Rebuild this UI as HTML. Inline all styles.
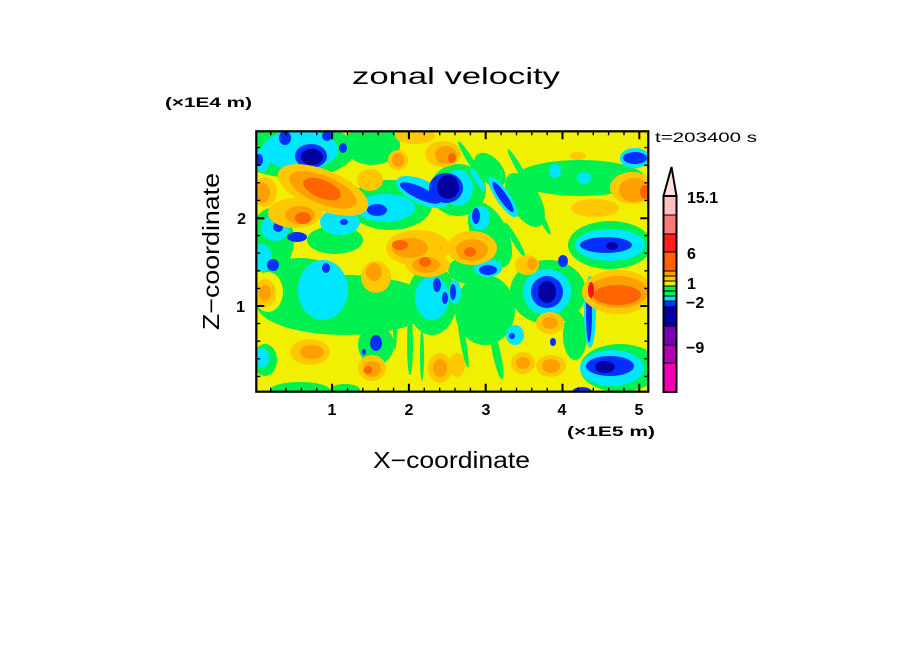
<!DOCTYPE html>
<html><head><meta charset="utf-8"><style>
html,body{margin:0;padding:0;background:#fff;}
svg{display:block;}
text{font-family:"Liberation Sans",sans-serif;fill:#000;}
.b{font-weight:bold;}
</style></head><body>
<svg width="904" height="654" viewBox="0 0 904 654" xmlns="http://www.w3.org/2000/svg">
<defs><clipPath id="c"><rect x="256" y="131" width="392" height="261"/></clipPath></defs>
<rect width="904" height="654" fill="#fff"/>
<g clip-path="url(#c)">
<rect x="256" y="131" width="392" height="261" fill="#f0f000"/>
<!-- green -->
<g fill="#00f050">
<ellipse cx="295" cy="150" rx="60" ry="28"/>
<ellipse cx="372" cy="145" rx="28" ry="20"/>
<ellipse cx="390" cy="205" rx="42" ry="25"/>
<ellipse cx="272" cy="240" rx="22" ry="32"/>
<ellipse cx="335" cy="240" rx="28" ry="14"/>
<ellipse cx="345" cy="305" rx="88" ry="30"/>
<ellipse cx="300" cy="280" rx="40" ry="22"/>
<ellipse cx="432" cy="300" rx="25" ry="35"/>
<ellipse cx="485" cy="310" rx="30" ry="35"/>
<ellipse cx="548" cy="292" rx="38" ry="32"/>
<ellipse cx="575" cy="335" rx="12" ry="25"/>
<ellipse cx="580" cy="178" rx="65" ry="18"/>
<ellipse cx="610" cy="245" rx="42" ry="24"/>
<ellipse cx="620" cy="368" rx="40" ry="24"/>
<ellipse cx="458" cy="190" rx="28" ry="26"/>
<ellipse cx="490" cy="170" rx="20" ry="12" transform="rotate(50 490 170)"/>
<ellipse cx="376" cy="345" rx="18" ry="20"/>
<ellipse cx="490" cy="235" rx="18" ry="35" transform="rotate(-25 490 235)"/>
<ellipse cx="265" cy="360" rx="12" ry="16"/>
<ellipse cx="300" cy="390" rx="30" ry="8"/>
<ellipse cx="345" cy="390" rx="15" ry="6"/>
<ellipse cx="470" cy="270" rx="22" ry="14"/>
<ellipse cx="525" cy="200" rx="15" ry="30" transform="rotate(-30 525 200)"/>
<ellipse cx="470" cy="160" rx="22" ry="3" transform="rotate(58 470 160)"/>
<ellipse cx="520" cy="170" rx="24" ry="3" transform="rotate(60 520 170)"/>
<ellipse cx="540" cy="215" rx="22" ry="3" transform="rotate(62 540 215)"/>
<ellipse cx="515" cy="240" rx="20" ry="3" transform="rotate(60 515 240)"/>
<ellipse cx="410" cy="345" rx="3" ry="30"/>
<ellipse cx="422" cy="355" rx="2" ry="26"/>
<ellipse cx="463" cy="340" rx="3" ry="28" transform="rotate(-10 463 340)"/>
<ellipse cx="497" cy="355" rx="4" ry="25" transform="rotate(-12 497 355)"/>
<ellipse cx="395" cy="325" rx="2" ry="25"/>
</g>
<ellipse cx="268" cy="292" rx="15" ry="20" fill="#f0f000"/>
<!-- cyan -->
<g fill="#00e6ff">
<ellipse cx="300" cy="150" rx="38" ry="20"/>
<ellipse cx="262" cy="160" rx="8" ry="12"/>
<ellipse cx="340" cy="222" rx="20" ry="13"/>
<ellipse cx="385" cy="208" rx="30" ry="14"/>
<ellipse cx="422" cy="192" rx="28" ry="12" transform="rotate(25 422 192)"/>
<ellipse cx="275" cy="228" rx="14" ry="13"/>
<ellipse cx="262" cy="258" rx="10" ry="14"/>
<ellipse cx="323" cy="290" rx="25" ry="30"/>
<ellipse cx="432" cy="298" rx="17" ry="22"/>
<ellipse cx="547" cy="292" rx="24" ry="23"/>
<ellipse cx="515" cy="335" rx="9" ry="10"/>
<ellipse cx="610" cy="245" rx="35" ry="16"/>
<ellipse cx="612" cy="368" rx="32" ry="18"/>
<ellipse cx="262" cy="358" rx="7" ry="10"/>
<ellipse cx="555" cy="171" rx="6" ry="7"/>
<ellipse cx="584" cy="178" rx="7" ry="6"/>
<ellipse cx="635" cy="158" rx="15" ry="10"/>
<ellipse cx="458" cy="188" rx="15" ry="18"/>
<ellipse cx="503" cy="197" rx="24" ry="7" transform="rotate(56 503 197)"/>
<ellipse cx="480" cy="218" rx="10" ry="12"/>
<ellipse cx="488" cy="268" rx="14" ry="9"/>
<ellipse cx="590" cy="312" rx="6" ry="36"/>
<ellipse cx="455" cy="292" rx="6" ry="12"/>
<ellipse cx="478" cy="180" rx="14" ry="3" transform="rotate(58 478 180)"/>
</g>
<!-- blue -->
<g fill="#0030ff">
<ellipse cx="311" cy="156" rx="16" ry="12"/>
<ellipse cx="285" cy="138" rx="6" ry="7"/>
<ellipse cx="327" cy="136" rx="5" ry="5"/>
<ellipse cx="343" cy="148" rx="4" ry="5"/>
<ellipse cx="259" cy="160" rx="4" ry="6"/>
<ellipse cx="344" cy="222" rx="4" ry="3"/>
<ellipse cx="377" cy="210" rx="10" ry="6"/>
<ellipse cx="420" cy="193" rx="22" ry="6" transform="rotate(25 420 193)"/>
<ellipse cx="297" cy="237" rx="10" ry="5"/>
<ellipse cx="278" cy="227" rx="5" ry="5"/>
<ellipse cx="273" cy="265" rx="6" ry="6"/>
<ellipse cx="326" cy="268" rx="4" ry="5"/>
<ellipse cx="376" cy="343" rx="6" ry="8"/>
<ellipse cx="364" cy="352" rx="2" ry="3"/>
<ellipse cx="446" cy="188" rx="17" ry="15"/>
<ellipse cx="503" cy="197" rx="18" ry="4" transform="rotate(56 503 197)"/>
<ellipse cx="476" cy="216" rx="4" ry="8"/>
<ellipse cx="635" cy="158" rx="12" ry="6"/>
<ellipse cx="547" cy="292" rx="16" ry="16"/>
<ellipse cx="563" cy="261" rx="5" ry="6"/>
<ellipse cx="488" cy="270" rx="9" ry="5"/>
<ellipse cx="453" cy="292" rx="3" ry="8"/>
<ellipse cx="610" cy="366" rx="24" ry="10"/>
<ellipse cx="589" cy="312" rx="3" ry="30"/>
<ellipse cx="437" cy="285" rx="4" ry="7"/>
<ellipse cx="445" cy="298" rx="3" ry="6"/>
<ellipse cx="606" cy="245" rx="26" ry="8"/>
<ellipse cx="582" cy="392" rx="10" ry="5"/>
<ellipse cx="553" cy="342" rx="3" ry="4"/>
<ellipse cx="512" cy="336" rx="3" ry="3"/>
</g>
<!-- dark blue -->
<g fill="#0000a0">
<ellipse cx="312" cy="157" rx="11" ry="8"/>
<ellipse cx="448" cy="187" rx="11" ry="12"/>
<ellipse cx="547" cy="292" rx="9" ry="11"/>
<ellipse cx="605" cy="367" rx="10" ry="6"/>
<ellipse cx="612" cy="246" rx="6" ry="4"/>
</g>
<!-- gold -->
<g fill="#ffc800">
<ellipse cx="323" cy="190" rx="48" ry="20" transform="rotate(22 323 190)"/>
<ellipse cx="265" cy="192" rx="12" ry="15"/>
<ellipse cx="295" cy="213" rx="27" ry="15"/>
<ellipse cx="370" cy="180" rx="13" ry="11"/>
<ellipse cx="398" cy="160" rx="10" ry="10"/>
<ellipse cx="443" cy="154" rx="18" ry="13"/>
<ellipse cx="415" cy="136" rx="20" ry="8"/>
<ellipse cx="632" cy="188" rx="22" ry="16"/>
<ellipse cx="595" cy="208" rx="24" ry="9"/>
<ellipse cx="578" cy="156" rx="8" ry="4"/>
<ellipse cx="418" cy="248" rx="32" ry="18"/>
<ellipse cx="472" cy="248" rx="25" ry="17"/>
<ellipse cx="265" cy="293" rx="11" ry="14"/>
<ellipse cx="376" cy="277" rx="15" ry="16"/>
<ellipse cx="428" cy="265" rx="22" ry="12"/>
<ellipse cx="310" cy="352" rx="20" ry="13"/>
<ellipse cx="372" cy="368" rx="14" ry="13"/>
<ellipse cx="440" cy="368" rx="12" ry="15"/>
<ellipse cx="550" cy="323" rx="14" ry="11"/>
<ellipse cx="523" cy="363" rx="12" ry="11"/>
<ellipse cx="551" cy="366" rx="15" ry="11"/>
<ellipse cx="457" cy="365" rx="8" ry="12"/>
<ellipse cx="527" cy="265" rx="12" ry="10"/>
<ellipse cx="618" cy="292" rx="36" ry="22"/>
</g>
<!-- orange -->
<g fill="#ffa000">
<ellipse cx="323" cy="190" rx="36" ry="14" transform="rotate(22 323 190)"/>
<ellipse cx="263" cy="193" rx="7" ry="10"/>
<ellipse cx="300" cy="215" rx="15" ry="9"/>
<ellipse cx="398" cy="160" rx="6" ry="7"/>
<ellipse cx="446" cy="155" rx="11" ry="9"/>
<ellipse cx="634" cy="190" rx="15" ry="12"/>
<ellipse cx="410" cy="248" rx="18" ry="10"/>
<ellipse cx="472" cy="250" rx="16" ry="11"/>
<ellipse cx="265" cy="293" rx="6" ry="8"/>
<ellipse cx="374" cy="272" rx="8" ry="9"/>
<ellipse cx="426" cy="265" rx="14" ry="8"/>
<ellipse cx="312" cy="352" rx="12" ry="7"/>
<ellipse cx="372" cy="369" rx="9" ry="8"/>
<ellipse cx="440" cy="368" rx="7" ry="9"/>
<ellipse cx="550" cy="323" rx="8" ry="6"/>
<ellipse cx="523" cy="363" rx="7" ry="6"/>
<ellipse cx="551" cy="366" rx="9" ry="7"/>
<ellipse cx="532" cy="264" rx="5" ry="6"/>
<ellipse cx="618" cy="292" rx="30" ry="16"/>
</g>
<!-- dark orange -->
<g fill="#ff6400">
<ellipse cx="322" cy="189" rx="20" ry="9" transform="rotate(22 322 189)"/>
<ellipse cx="303" cy="218" rx="8" ry="6"/>
<ellipse cx="452" cy="158" rx="4" ry="5"/>
<ellipse cx="400" cy="245" rx="8" ry="5"/>
<ellipse cx="470" cy="252" rx="6" ry="5"/>
<ellipse cx="425" cy="262" rx="6" ry="5"/>
<ellipse cx="368" cy="370" rx="4" ry="4"/>
<ellipse cx="617" cy="295" rx="24" ry="10"/>
<ellipse cx="645" cy="192" rx="5" ry="7"/>
</g>
<ellipse cx="591" cy="290" rx="3" ry="8" fill="#ff1010"/>
</g>

<!-- frame -->
<rect x="256.3" y="131.3" width="392" height="260.4" fill="none" stroke="#000" stroke-width="2.2"/>
<!-- ticks -->
<g stroke="#000" stroke-width="1.4">
<path d="M270.7 391.7v-4M286 391.7v-4M301.4 391.7v-4M316.7 391.7v-4M347.5 391.7v-4M362.8 391.7v-4M378.2 391.7v-4M393.6 391.7v-4M424.3 391.7v-4M439.7 391.7v-4M455 391.7v-4M470.4 391.7v-4M501.1 391.7v-4M516.5 391.7v-4M531.8 391.7v-4M547.2 391.7v-4M577.9 391.7v-4M593.3 391.7v-4M608.6 391.7v-4M624 391.7v-4"/>
<path d="M270.7 131.3v4M286 131.3v4M301.4 131.3v4M316.7 131.3v4M347.5 131.3v4M362.8 131.3v4M378.2 131.3v4M393.6 131.3v4M424.3 131.3v4M439.7 131.3v4M455 131.3v4M470.4 131.3v4M501.1 131.3v4M516.5 131.3v4M531.8 131.3v4M547.2 131.3v4M577.9 131.3v4M593.3 131.3v4M608.6 131.3v4M624 131.3v4"/>
<path d="M256.3 376.4h4M256.3 358.8h4M256.3 341.2h4M256.3 323.6h4M256.3 288.4h4M256.3 270.8h4M256.3 253.2h4M256.3 235.6h4M256.3 200.4h4M256.3 182.8h4M256.3 165.2h4M256.3 147.6h4"/>
<path d="M648.3 376.4h-4M648.3 358.8h-4M648.3 341.2h-4M648.3 323.6h-4M648.3 288.4h-4M648.3 270.8h-4M648.3 253.2h-4M648.3 235.6h-4M648.3 200.4h-4M648.3 182.8h-4M648.3 165.2h-4M648.3 147.6h-4"/>
</g>
<g stroke="#000" stroke-width="2">
<path d="M332.1 391.7v-8M408.9 391.7v-8M485.7 391.7v-8M562.5 391.7v-8M639.3 391.7v-8"/>
<path d="M332.1 131.3v8M408.9 131.3v8M485.7 131.3v8M562.5 131.3v8M639.3 131.3v8"/>
<path d="M256.3 306h8M256.3 218.2h8M648.3 306h-8M648.3 218.2h-8"/>
</g>

<!-- colorbar -->
<g stroke="#000" stroke-width="1">
<rect x="663.5" y="196" width="13" height="19" fill="#ffc0c0"/>
<rect x="663.5" y="215" width="13" height="19" fill="#ff7878"/>
<rect x="663.5" y="234" width="13" height="18" fill="#ff1e1e"/>
<rect x="663.5" y="252" width="13" height="19" fill="#ff6400"/>
<rect x="663.5" y="271" width="13" height="5" fill="#ffa000"/>
<rect x="663.5" y="276" width="13" height="5" fill="#ffc800"/>
<rect x="663.5" y="281" width="13" height="5" fill="#f0f000"/>
<rect x="663.5" y="286" width="13" height="5" fill="#00f050"/>
<rect x="663.5" y="291" width="13" height="5" fill="#00f050"/>
<rect x="663.5" y="296" width="13" height="5" fill="#00e6ff"/>
<rect x="663.5" y="301" width="13" height="6" fill="#0030ff"/>
<rect x="663.5" y="307" width="13" height="19" fill="#0000a0"/>
<rect x="663.5" y="326" width="13" height="19" fill="#7800b4"/>
<rect x="663.5" y="345" width="13" height="18" fill="#b400b4"/>
<rect x="663.5" y="363" width="13" height="29" fill="#f000b4"/>
</g>
<rect x="663.5" y="196" width="13" height="196" fill="none" stroke="#000" stroke-width="2"/>
<polygon points="663.5,196 676.5,196 671.5,167" fill="#ffe0e0" stroke="#000" stroke-width="2"/>

<!-- texts -->
<text x="352" y="84" font-size="23" textLength="208" lengthAdjust="spacingAndGlyphs">zonal velocity</text>
<text x="165" y="107" font-size="14" class="b" textLength="87" lengthAdjust="spacingAndGlyphs">(×1E4 m)</text>
<text x="655" y="142" font-size="14" textLength="102" lengthAdjust="spacingAndGlyphs">t=203400 s</text>
<text x="373" y="468" font-size="23" textLength="157" lengthAdjust="spacingAndGlyphs">X−coordinate</text>
<text transform="translate(219 330) rotate(-90)" x="0" y="0" font-size="23" textLength="157" lengthAdjust="spacingAndGlyphs">Z−coordinate</text>
<text x="567" y="436" font-size="14" class="b" textLength="88" lengthAdjust="spacingAndGlyphs">(×1E5 m)</text>
<g font-size="16" text-anchor="middle">
<text x="332" y="415" class="b">1</text>
<text x="409" y="415" class="b">2</text>
<text x="486" y="415" class="b">3</text>
<text x="562" y="415" class="b">4</text>
<text x="639" y="415" class="b">5</text>
</g>
<g font-size="16" text-anchor="end">
<text x="246" y="224" class="b">2</text>
<text x="245" y="312" class="b">1</text>
</g>
<g font-size="16">
<text x="687" y="203" class="b">15.1</text>
<text x="687" y="259" class="b">6</text>
<text x="687" y="289" class="b">1</text>
<text x="686" y="308" class="b">−2</text>
<text x="686" y="353" class="b">−9</text>
</g>
</svg>
</body></html>
